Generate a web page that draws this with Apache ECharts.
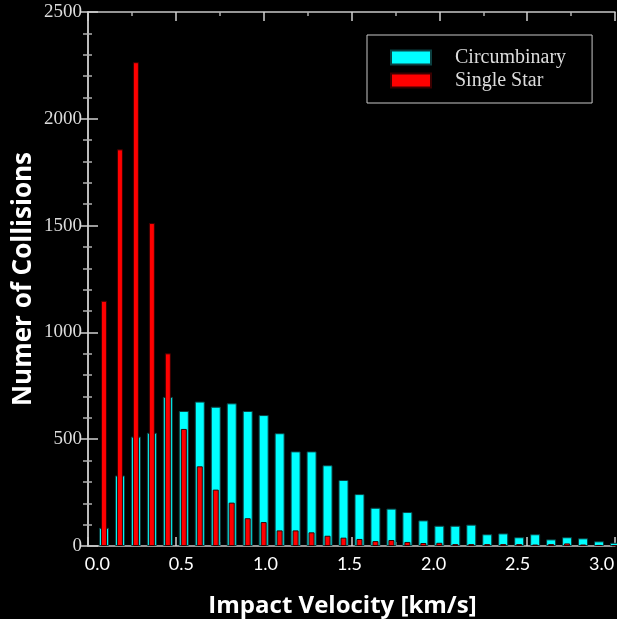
<!DOCTYPE html>
<html lang="en">
<head>
    <meta charset="UTF-8">
    <title>Impact velocity histogram</title>
    <style>
        html, body { margin: 0; padding: 0; background-color: #000; }
    </style>
</head>
<body>
<div id="chart" style="width: 617px;height: 619px;"></div>
<script src="https://cdn.jsdelivr.net/npm/echarts@6/dist/echarts.min.js"></script>
<script>
    /* bin edges (km/s), bars sit on the upper edge of each bin */
    var binEdges = ['0.00','0.09','0.18','0.27','0.36','0.45','0.55','0.64','0.73','0.82','0.91',
                    '1.00','1.09','1.18','1.27','1.36','1.45','1.55','1.64','1.73','1.82','1.91',
                    '2.00','2.09','2.18','2.27','2.36','2.45','2.55','2.64','2.73','2.82','2.91','3.00'];
    /* counts per bin */
    var circumbinary = [85, 330, 512, 530, 698, 632, 676, 652, 668, 632, 613,
                        528, 443, 443, 378, 309, 243, 179, 175, 159, 120, 95,
                        95, 100, 55, 59, 41, 55, 31, 41, 36, 22, 15];
    var singleStar = [1148, 1857, 2265, 1512, 902, 548, 373, 264, 203, 130, 112,
                      73, 73, 64, 48, 39, 33, 23, 28, 19, 14, 15,
                      9, 9, 9, 9, 9, 7, 9, 12, 7, 5, 3];
    /* tick labels */
    var xLabels = [0, 0.5, 1.0, 1.5, 2.0, 2.5, 3.0];
    var yMax = 2500;

    var chart = echarts.init(document.getElementById('chart'));

    var frameLine = { show: true, lineStyle: { color: '#c8c8c8', width: 1.5 } };
    var frameTickX = { show: true, inside: true, length: 9, lineStyle: { color: '#d0d0d0', width: 1.5 } };
    var frameMinorX = { show: true, splitNumber: 2, length: 4, lineStyle: { color: '#b0b0b0', width: 1.5 } };

    var option = {
        backgroundColor: '#000',
        animation: false,
        grid: { left: 88, right: 2, top: 12, bottom: 73, outerBoundsMode: 'none', containLabel: false },
        legend: {
            orient: 'vertical',
            left: 367,
            top: 35,
            padding: [11, 26, 11, 23],
            icon: 'rect',
            itemWidth: 40,
            itemHeight: 14,
            itemGap: 0,
            borderColor: '#c8c8c8',
            borderWidth: 1,
            textStyle: {
                color: '#dcdcdc',
                fontFamily: 'Liberation Serif',
                fontSize: 20,
                lineHeight: 23,
                padding: [0, 0, 0, 19]
            },
            data: ['Circumbinary', 'Single Star']
        },
        xAxis: [
            {   // bars: circumbinary
                type: 'category', show: false, boundaryGap: false, data: binEdges
            },
            {   // bars: single star
                type: 'category', show: false, boundaryGap: false, data: binEdges
            },
            {   // bottom frame with ticks
                type: 'value', position: 'bottom', min: 0, max: 3, interval: 0.5,
                axisLine: frameLine, axisTick: frameTickX, minorTick: frameMinorX,
                axisLabel: { show: false }, splitLine: { show: false }
            },
            {   // top frame with ticks
                type: 'value', position: 'top', min: 0, max: 3, interval: 0.5,
                axisLine: frameLine, axisTick: frameTickX, minorTick: frameMinorX,
                axisLabel: { show: false }, splitLine: { show: false }
            },
            {   // tick labels + title
                type: 'value', position: 'bottom', min: -0.056, max: 3.08,
                axisLine: { show: false }, axisTick: { show: false }, splitLine: { show: false },
                axisLabel: {
                    customValues: xLabels,
                    margin: 9,
                    color: '#ffffff',
                    fontFamily: 'Lato',
                    fontSize: 18,
                    formatter: function (v) { return v.toFixed(1); }
                },
                name: 'Impact Velocity [km/s]',
                nameLocation: 'middle',
                nameGap: 48,
                nameTextStyle: {
                    color: '#ffffff',
                    fontFamily: 'Open Sans',
                    fontWeight: 'bold',
                    fontSize: 24,
                    padding: [0, 18, 0, 0]
                }
            }
        ],
        yAxis: [
            {
                type: 'value', position: 'left', min: 0, max: yMax, interval: 500,
                axisLine: frameLine,
                axisTick: { show: true, inside: true, length: 10, lineStyle: { color: '#d0d0d0', width: 1.5 } },
                minorTick: { show: true, splitNumber: 5, length: 4, lineStyle: { color: '#b0b0b0', width: 1.5 } },
                splitLine: { show: false },
                axisLabel: {
                    margin: 6,
                    color: '#dcdcdc',
                    fontFamily: 'Liberation Serif',
                    fontSize: 19,
                    formatter: function (v) { return String(v); }
                },
                name: 'Numer of Collisions',
                nameLocation: 'middle',
                nameGap: 51,
                nameMoveOverlap: false,
                nameTextStyle: {
                    color: '#ffffff',
                    fontFamily: 'Open Sans',
                    fontWeight: 'bold',
                    fontSize: 26
                }
            },
            {
                type: 'value', position: 'right', min: 0, max: yMax, interval: 500,
                axisLine: frameLine,
                axisTick: { show: true, inside: true, length: 8, lineStyle: { color: '#d0d0d0', width: 1.5 } },
                minorTick: { show: true, splitNumber: 5, length: 5, lineStyle: { color: '#b0b0b0', width: 1.5 } },
                splitLine: { show: false },
                axisLabel: { show: false }
            }
        ],
        series: [
            {
                name: 'Circumbinary',
                type: 'bar',
                xAxisIndex: 0,
                yAxisIndex: 0,
                barWidth: 10,
                itemStyle: { color: '#00ffff', borderColor: '#0b3f40', borderWidth: 1 },
                data: ['-'].concat(circumbinary)
            },
            {
                name: 'Single Star',
                type: 'bar',
                xAxisIndex: 1,
                yAxisIndex: 0,
                barWidth: 6,
                z: 3,
                itemStyle: { color: '#ff0000', borderColor: '#3a0000', borderWidth: 1 },
                data: ['-'].concat(singleStar)
            }
        ]
    };

    chart.setOption(option);
</script>
</body>
</html>
